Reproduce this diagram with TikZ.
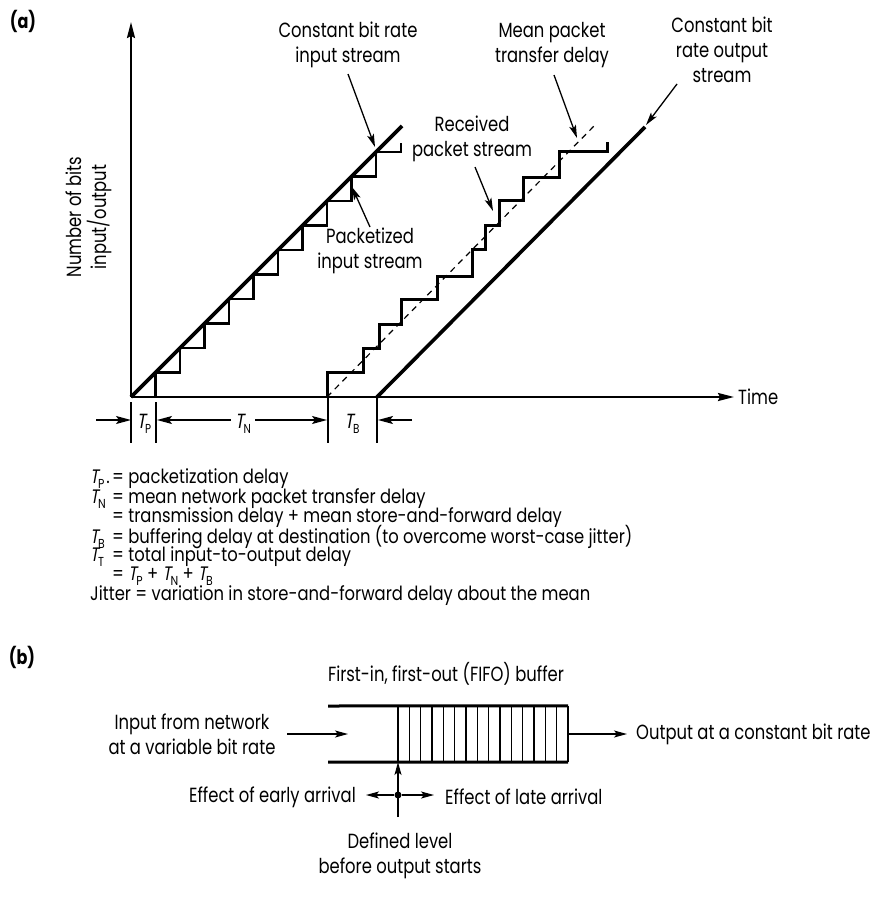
\documentclass[tikz,border=0pt]{standalone}
\usepackage{fontspec}
\setmainfont{Poppins}[FakeStretch=0.8]
\newfontface\slantface{Poppins}[FakeStretch=0.8,FakeSlant=0.18]
\newfontface\keyface{Poppins}[FakeStretch=0.84]
\usetikzlibrary{arrows.meta}
% italic T with an upright lowered subscript
\newcommand\Tsym[1]{{\slantface T}\kern-0.5pt\raisebox{-0.45ex}{\fontsize{13}{13}\selectfont #1}}

\begin{document}
\begin{tikzpicture}[x=1pt,y=-1pt,
  lab/.style={font=\fontsize{20.5}{25}\selectfont, align=center, inner sep=0pt},
  leg/.style={font=\keyface\fontsize{19.5}{20}\selectfont, inner sep=0pt, anchor=west},
  tag/.style={font=\bfseries\fontsize{20}{24}\selectfont, inner sep=0pt},
  heavy/.style={line width=3.6pt},
  stair/.style={line width=2.2pt, line join=miter},
  axisline/.style={line width=2.2pt, -{Stealth[length=16pt,width=8pt,inset=2pt]}},
  ptr/.style={line width=1.3pt, -{Stealth[length=13pt,width=7pt,inset=3pt]}},
  dimarrow/.style={line width=1.3pt, -{Stealth[length=15pt,width=8pt,inset=3pt]}},
  tickline/.style={line width=1.3pt},
  cell/.style={line width=1.2pt},
  rail/.style={line width=3pt}]

\fill[white] (0,0) rectangle (894,913);
\useasboundingbox (0,0) rectangle (894,913);

% ---------------- (a) ----------------
\node[tag] (tagA) at (23,21) {(a)};

\coordinate (O) at (131,397);
\coordinate (ytop) at (131,22);
\coordinate (xend) at (734,397);
\draw[axisline] (O) -- (ytop);
\draw[axisline] (O) -- (xend);
\node[lab, anchor=west] (time) at (738,397) {Time};
\node[lab, rotate=90] (ylab) at (89,217) {Number of bits\\input/output};

% packetized input stream
\draw[stair] (131,397)
  \foreach \k in {1,...,10} { -- ({131+\k*24.5},{397-(\k-1)*24.5}) -- ({131+\k*24.5},{397-\k*24.5}) }
  -- (401,152) -- (401,143);
% constant bit rate input stream
\coordinate (inS) at (131,397);
\coordinate (inE) at (402,126);
\draw[heavy] (inS) -- (inE);

% mean packet transfer delay
\coordinate (mS) at (327,397);
\coordinate (mE) at (597,123);
\draw[line width=1.2pt, dash pattern=on 6pt off 5pt] (mS) -- (mE);

% received packet stream
\draw[heavy, line width=3pt, line join=miter] (327,397) -- (327,372) -- (363,372) -- (363,348) -- (379,348) -- (379,324)
  -- (401,324) -- (401,299) -- (437,299) -- (437,276) -- (472,276) -- (472,249)
  -- (485,249) -- (485,225) -- (499,225) -- (499,200) -- (523,200) -- (523,177)
  -- (559,177) -- (559,151) -- (607,151) -- (607,142);

% constant bit rate output stream
\coordinate (outS) at (377,397);
\coordinate (outE) at (645,127);
\draw[heavy] (outS) -- (outE);

% labels and pointers
\node[lab] (cbrIn) at (348,45) {Constant bit rate\\input stream};
\coordinate (cbrInA) at (348,74);
\coordinate (cbrInB) at (375,147);
\draw[ptr] (cbrInA) -- (cbrInB);

\node[lab] (pkt) at (370,251) {Packetized\\input stream};
\coordinate (pktA) at (370,227);
\coordinate (pktB) at (352,187);
\draw[ptr] (pktA) -- (pktB);

\node[lab] (rcv) at (472,139) {Received\\packet stream};
\coordinate (rcvA) at (475,167);
\coordinate (rcvB) at (493,211);
\draw[ptr] (rcvA) -- (rcvB);

\node[lab] (mean) at (552,45) {Mean packet\\transfer delay};
\coordinate (meanA) at (554,75);
\coordinate (meanB) at (577,138);
\draw[ptr] (meanA) -- (meanB);

\node[lab] (cbrOut) at (722,50) {Constant bit\\rate output\\stream};
\coordinate (cbrOutA) at (677,84);
\coordinate (cbrOutB) at (646,125);
\draw[ptr] (cbrOutA) -- (cbrOutB);

% delay intervals below the time axis
\foreach \x/\a/\b in {131/402/443, 156/402/443, 328/398/443, 377/398/443}
  \draw[tickline] (\x,\a) -- (\x,\b);
\node[lab] (tp) at (144,424) {\Tsym{P}};
\node[lab] (tn) at (243,424) {\Tsym{N}};
\node[lab] (tb) at (352,424) {\Tsym{B}};
\coordinate (tpL) at (96,420);  \coordinate (tpR) at (131,420);
\coordinate (tnL) at (157,420); \coordinate (tnR) at (327,420);
\coordinate (tbR) at (378,420); \coordinate (tbF) at (412,420);
\draw[dimarrow] (tpL) -- (tpR);
\draw[dimarrow] (tn.west) ++(-4,-4) coordinate (tnW) -- (tnL);
\draw[dimarrow] (tn.east) ++(4,-4) coordinate (tnE) -- (tnR);
\draw[dimarrow] (tbF) -- (tbR);

% key
\node[leg] (k1) at (90,479) {\makebox[22pt][l]{\Tsym{P}\hspace{2pt}.}= packetization delay};
\node[leg] (k2) at (90,498.5) {\makebox[22pt][l]{\Tsym{N}}= mean network packet transfer delay};
\node[leg] (k3) at (90,518) {\makebox[22pt][l]{}= transmission delay + mean store-and-forward delay};
\node[leg] (k4) at (90,537.5) {\makebox[22pt][l]{\Tsym{B}}= buffering delay at destination (to overcome worst-case jitter)};
\node[leg] (k5) at (90,557) {\makebox[22pt][l]{\Tsym{T}}= total input-to-output delay};
\node[leg] (k6) at (90,576.5) {\makebox[22pt][l]{}= \Tsym{P} + \Tsym{N} + \Tsym{B}};
\node[leg] (k7) at (90,596) {Jitter = variation in store-and-forward delay about the mean};

% ---------------- (b) ----------------
\node[tag] (tagB) at (22,657) {(b)};
\node[lab] (fifoLab) at (446,674) {First-in, first-out (FIFO) buffer};

\node[inner sep=0, minimum width=170pt, minimum height=56pt] (fifo) at (483,734) {};
\draw[rail] (328,706) -- (fifo.north east);
\draw[rail] (328,762) -- (fifo.south east);
\foreach \i in {0,...,15}
  \draw[cell] ({398+\i*11.333},706) -- ({398+\i*11.333},762);

\node[lab] (inp) at (192,734) {Input from network\\at a variable bit rate};
\coordinate (inA) at (287,734);
\coordinate (inB) at (348,734);
\draw[ptr] (inA) -- (inB);

\node[lab, anchor=west] (outp) at (636,734) {Output at a constant bit rate};
\draw[ptr] (fifo.east) -- ([xshift=-9pt]outp.west);

\coordinate (lvlBase) at (398,817);
\coordinate (lvlTop) at (398,762);
\draw[ptr] (lvlBase) -- (lvlTop);
\node[circle, fill, inner sep=0pt, minimum size=7pt] (dot) at (398,795) {};
\coordinate (earlyTip) at (366,795);
\coordinate (lateTip) at (434,795);
\draw[ptr] (dot) -- (earlyTip);
\draw[ptr] (dot) -- (lateTip);
\node[lab, anchor=east] (early) at (356,797) {Effect of early arrival};
\node[lab, anchor=west] (late) at (445,797) {Effect of late arrival};
\node[lab] (lvl) at (400,856) {Defined level\\before output starts};

\end{tikzpicture}
\end{document}
